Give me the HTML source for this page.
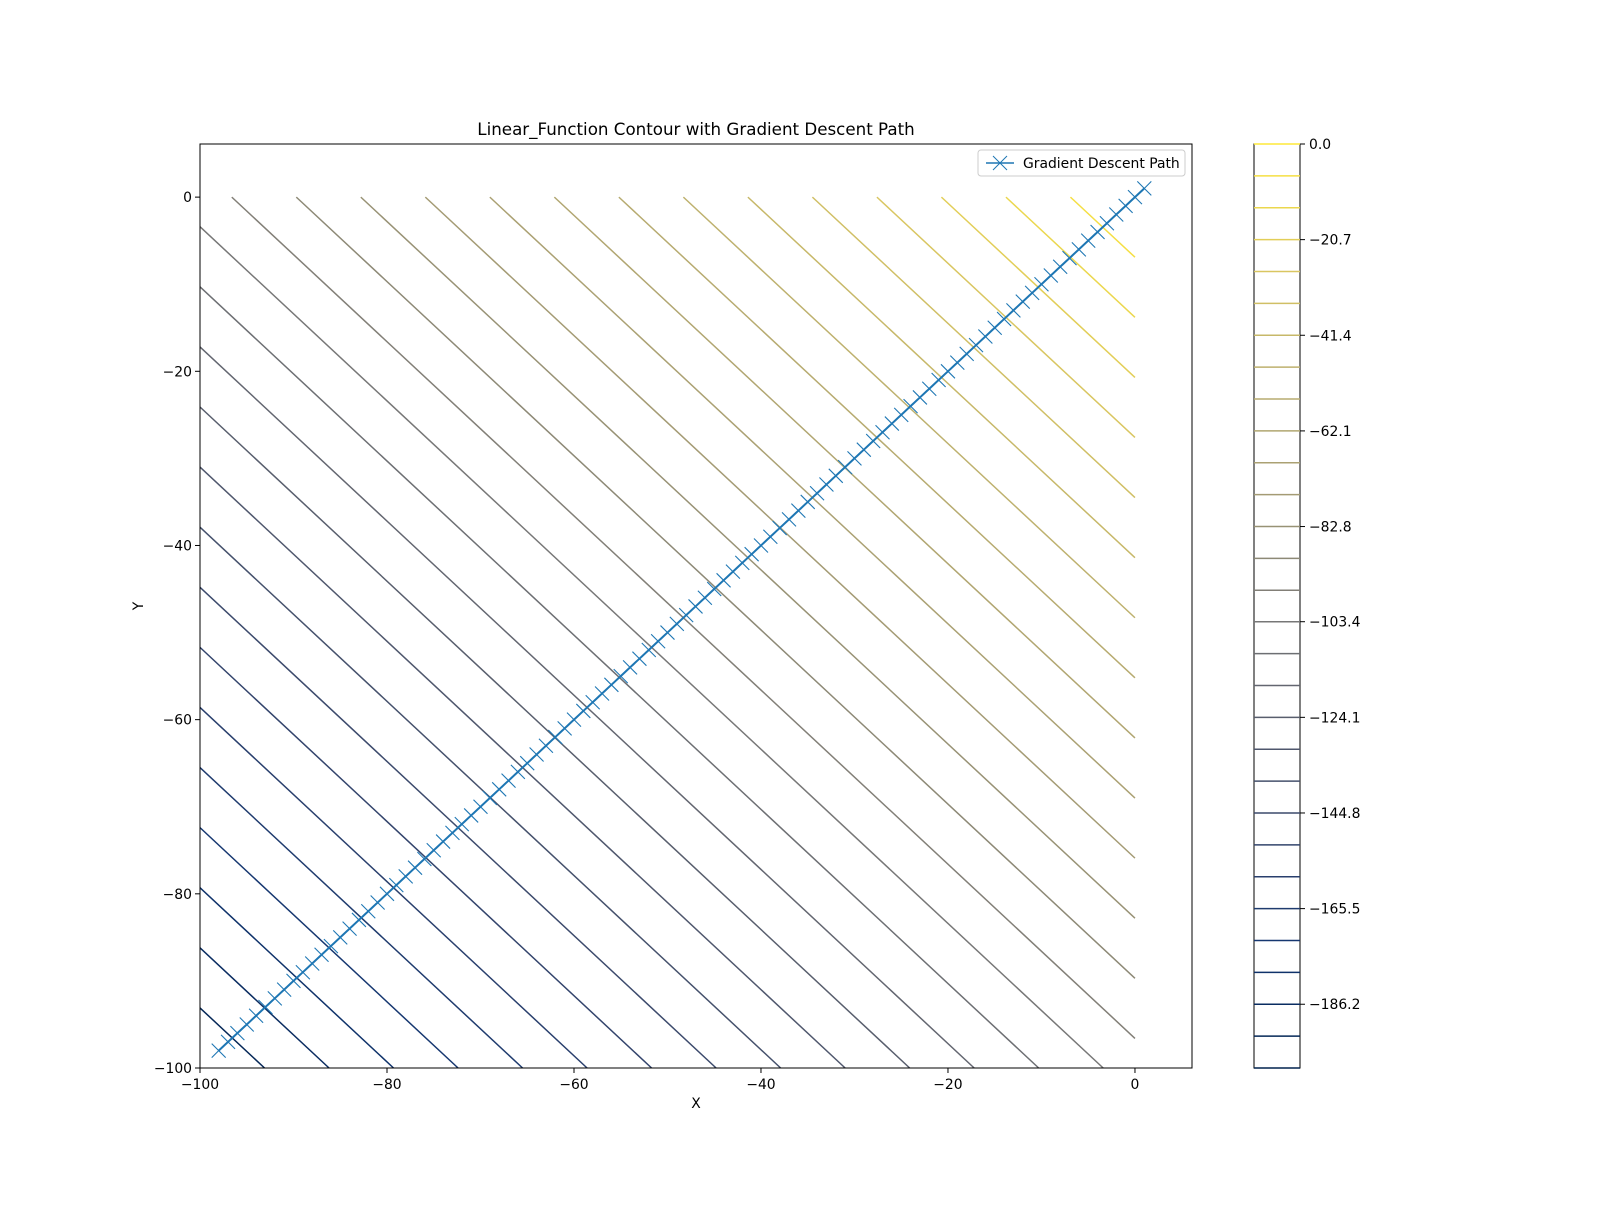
<!DOCTYPE html>
<html><head><meta charset="utf-8"><style>
body{margin:0;background:#fff;}
svg text{font-family:"DejaVu Sans","Liberation Sans",sans-serif;fill:#000;}
</style></head><body>
<svg id="chart" xmlns="http://www.w3.org/2000/svg" width="1600" height="1200" viewBox="0 0 1600 1200">
<rect width="1600" height="1200" fill="#fff"/>
<text x="696" y="135" font-size="16.7" text-anchor="middle">Linear_Function Contour with Gradient Descent Path</text>
<g id="contours"></g>
<g id="path"></g>
<rect x="200" y="144" width="992" height="924" fill="none" stroke="#000" stroke-width="1"/>
<g id="xaxis"></g>
<g id="yaxis"></g>
<text x="696" y="1108" font-size="13.9" text-anchor="middle">X</text>
<text x="143" y="606" font-size="13.9" text-anchor="middle" transform="rotate(-90 143 606)">Y</text>
<g>
<rect x="978" y="150" width="207" height="26" rx="3" fill="#fff" fill-opacity="0.8" stroke="#ccc"/>
<line x1="986" y1="163" x2="1014" y2="163" stroke="#1f77b4" stroke-width="1.5"/>
<path d="M993,156 L1007,170 M993,170 L1007,156" stroke="#1f77b4" stroke-width="1"/>
<text x="1023" y="168" font-size="13.9">Gradient Descent Path</text>
</g>
<g id="cbar"></g>
</svg>
<script>
const levelMin = -200, levelMax = 0, levelCount = 30;
const levels = [0,-6.9,-13.8,-20.7,-27.6,-34.5,-41.4,-48.3,-55.2,-62.1,-69.0,-75.9,-82.8,-89.7,-96.6,-103.4,-110.3,-117.2,-124.1,-131.0,-137.9,-144.8,-151.7,-158.6,-165.5,-172.4,-179.3,-186.2,-193.1,-200];
const cbarTicks = [0,-20.7,-41.4,-62.1,-82.8,-103.4,-124.1,-144.8,-165.5,-186.2];
const xTicks = [-100,-80,-60,-40,-20,0];
const yTicks = [0,-20,-40,-60,-80,-100];
const pathX = [-98,-97,-96,-95,-94,-93,-92,-91,-90,-89,-88,-87,-86,-85,-84,-83,-82,-81,-80,-79,-78,-77,-76,-75,-74,-73,-72,-71,-70,-69,-68,-67,-66,-65,-64,-63,-62,-61,-60,-59,-58,-57,-56,-55,-54,-53,-52,-51,-50,-49,-48,-47,-46,-45,-44,-43,-42,-41,-40,-39,-38,-37,-36,-35,-34,-33,-32,-31,-30,-29,-28,-27,-26,-25,-24,-23,-22,-21,-20,-19,-18,-17,-16,-15,-14,-13,-12,-11,-10,-9,-8,-7,-6,-5,-4,-3,-2,-1,0,1];
const pathY = [-98,-97,-96,-95,-94,-93,-92,-91,-90,-89,-88,-87,-86,-85,-84,-83,-82,-81,-80,-79,-78,-77,-76,-75,-74,-73,-72,-71,-70,-69,-68,-67,-66,-65,-64,-63,-62,-61,-60,-59,-58,-57,-56,-55,-54,-53,-52,-51,-50,-49,-48,-47,-46,-45,-44,-43,-42,-41,-40,-39,-38,-37,-36,-35,-34,-33,-32,-31,-30,-29,-28,-27,-26,-25,-24,-23,-22,-21,-20,-19,-18,-17,-16,-15,-14,-13,-12,-11,-10,-9,-8,-7,-6,-5,-4,-3,-2,-1,0,1];

const NS="http://www.w3.org/2000/svg";
const X0=200,X1=1192,Y0=144,Y1=1068, xmin=-100,xmax=6.1,ymin=-100,ymax=6.1;
const sx=v=>X0+(v-xmin)/(xmax-xmin)*(X1-X0);
const sy=v=>Y1-(v-ymin)/(ymax-ymin)*(Y1-Y0);
const stops=[[0,[0,34,78]],[0.125,[18,53,112]],[0.25,[53,69,108]],[0.375,[87,93,109]],[0.5,[124,123,120]],[0.625,[165,156,116]],[0.75,[188,175,111]],[0.875,[220,201,95]],[1,[254,232,56]]];
function cmap(t){t=Math.max(0,Math.min(1,t));for(let i=1;i<stops.length;i++){if(t<=stops[i][0]){const a=stops[i-1],b=stops[i];const f=(t-a[0])/(b[0]-a[0]);return 'rgb('+a[1].map((c,k)=>Math.round(c+(b[1][k]-c)*f)).join(',')+')';}}return 'rgb(254,232,56)';}
function mk(tag,attrs,parent){const e=document.createElementNS(NS,tag);for(const k in attrs)e.setAttribute(k,attrs[k]);parent.appendChild(e);return e;}

const gC=document.getElementById('contours');
levels.forEach(L=>{
  let a,b;
  if(L<=-200||L>=0) return;
  if(L>=-100){a=[L,0];b=[0,L];}else{a=[-100,L+100];b=[L+100,-100];}
  const ln=mk('line',{x1:sx(a[0]),y1:sy(a[1]),x2:sx(b[0]),y2:sy(b[1]),stroke:cmap((L-levelMin)/(levelMax-levelMin)),'stroke-width':1.5},gC);
  
  
});

const gP=document.getElementById('path');
const pl=mk('polyline',{points:pathX.map((x,i)=>sx(x)+','+sy(pathY[i])).join(' '),fill:'none',stroke:'#1f77b4','stroke-width':2},gP);


pathX.forEach((x,i)=>{
  const cx=sx(x),cy=sy(pathY[i]),r=7;
  const m=mk('path',{d:`M${cx-r},${cy-r}L${cx+r},${cy+r}M${cx-r},${cy+r}L${cx+r},${cy-r}`,stroke:'#1f77b4','stroke-width':1.1},gP);
  
  
});

const fmt=v=>(v<0?'\u2212':'')+Math.abs(v);
const gX=document.getElementById('xaxis');
xTicks.forEach(v=>{
  const x=sx(v);
  mk('line',{x1:x,y1:Y1,x2:x,y2:Y1+5,stroke:'#000'},gX);
  const t=mk('text',{x:x,y:Y1+21,'font-size':13.9,'text-anchor':'middle'},gX);t.textContent=fmt(v);
  
  
});
const gY=document.getElementById('yaxis');
yTicks.forEach(v=>{
  const y=sy(v);
  mk('line',{x1:X0-5,y1:y,x2:X0,y2:y,stroke:'#000'},gY);
  const t=mk('text',{x:X0-8,y:y+5,'font-size':13.9,'text-anchor':'end'},gY);t.textContent=fmt(v);
  
  
});

const gB=document.getElementById('cbar');
const CX0=1254,CX1=1300,CY0=144,CY1=1068;
const cy=v=>CY1-(v-levelMin)/(levelMax-levelMin)*(CY1-CY0);
mk('rect',{x:CX0,y:CY0,width:CX1-CX0,height:CY1-CY0,fill:'none',stroke:'#000'},gB);
levels.forEach(L=>{
  const l=mk('line',{x1:CX0,y1:cy(L),x2:CX1,y2:cy(L),stroke:cmap((L-levelMin)/(levelMax-levelMin)),'stroke-width':1.5},gB);
  
  
});
cbarTicks.forEach(v=>{
  const y=cy(v);
  mk('line',{x1:CX1,y1:y,x2:CX1+5,y2:y,stroke:'#000'},gB);
  const t=mk('text',{x:CX1+9,y:y+5,'font-size':13.9},gB);t.textContent=(v<0?'\u2212':'')+Math.abs(v).toFixed(1);
  
  
});
</script>
</body></html>
